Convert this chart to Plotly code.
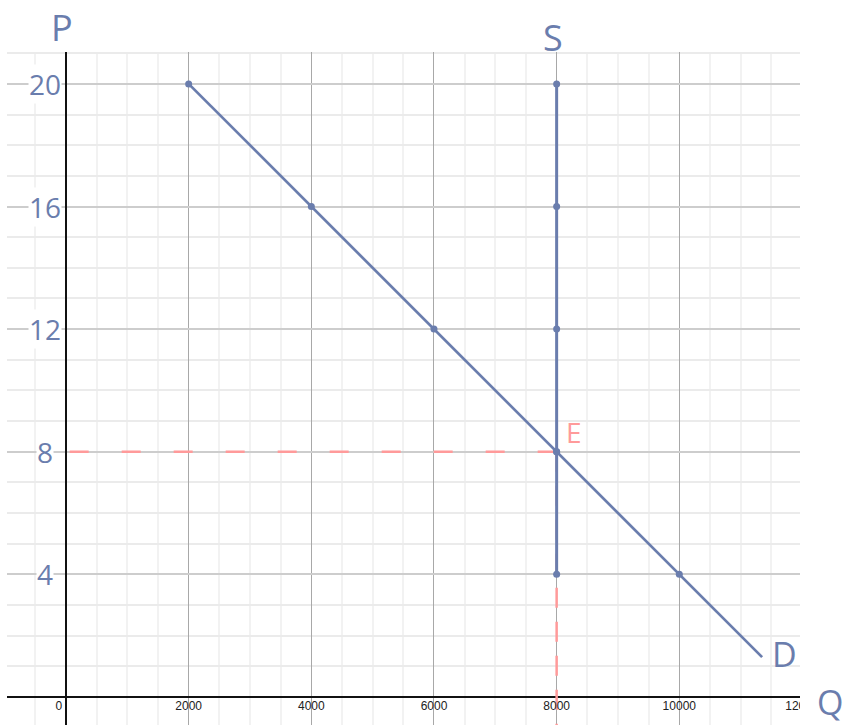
import plotly.graph_objects as go

# ---- data ----
demand_q = [2000, 4000, 6000, 8000, 10000, 11350]
demand_p = [20, 16, 12, 8, 4, 1.3]
demand_pts_q = [2000, 4000, 6000, 8000, 10000]
demand_pts_p = [20, 16, 12, 8, 4]

supply_q = [8000, 8000, 8000, 8000, 8000]
supply_p = [20, 16, 12, 8, 4]

eq_q = 8000
eq_p = 8

x_ticks = [0, 2000, 4000, 6000, 8000, 10000, 12000]
x_tick_labels = ["0", "2000", "4000", "6000", "8000", "10000", "12000"]
y_ticks = [20, 16, 12, 8, 4]
y_tick_labels = ["20", "16", "12", "8", "4"]

BLUE = "#6a7dad"
RED = "#ff9a9a"
HAND = "Open Sans"

X0, X1 = -962, 11968
Y0, Y1 = -0.914, 21.04

fig = go.Figure()

# dashed equilibrium guides
fig.add_trace(go.Scatter(x=[60, eq_q], y=[eq_p, eq_p], mode="lines",
                         line=dict(color=RED, width=2.5, dash="19px,33px"),
                         hoverinfo="skip", showlegend=False))
fig.add_trace(go.Scatter(x=[eq_q, eq_q], y=[eq_p, Y0], mode="lines",
                         line=dict(color=RED, width=2.5, dash="20px,14px"),
                         hoverinfo="skip", showlegend=False))

# demand
fig.add_trace(go.Scatter(x=demand_q, y=demand_p, mode="lines",
                         line=dict(color=BLUE, width=2.7),
                         hoverinfo="skip", showlegend=False))
fig.add_trace(go.Scatter(x=demand_pts_q, y=demand_pts_p, mode="markers",
                         marker=dict(color=BLUE, size=7),
                         hoverinfo="skip", showlegend=False))
# supply
fig.add_trace(go.Scatter(x=supply_q, y=supply_p, mode="lines+markers",
                         line=dict(color=BLUE, width=3),
                         marker=dict(color=BLUE, size=7),
                         hoverinfo="skip", showlegend=False))

# x tick labels drawn inside plot (clipped at plot edge)
x_label_pos = [x if x != 0 else -115 for x in x_ticks]
fig.add_trace(go.Scatter(x=x_label_pos, y=[-0.33] * len(x_ticks), mode="text",
                         text=x_tick_labels,
                         textfont=dict(family="Arial", size=12, color="#222"),
                         hoverinfo="skip", showlegend=False, cliponaxis=True))

fig.update_xaxes(range=[X0, X1], dtick=2000, tick0=0, showticklabels=False,
                 ticks="", showgrid=True, gridcolor="#a8a8a8", gridwidth=1,
                 minor=dict(dtick=500, tick0=0, showgrid=True,
                            gridcolor="#f2f2f2", gridwidth=2),
                 zeroline=True, zerolinecolor="#111", zerolinewidth=1.5,
                 showline=False, fixedrange=True)
fig.update_yaxes(range=[Y0, Y1], dtick=4, tick0=0, showticklabels=False,
                 ticks="", showgrid=True, gridcolor="#cdcdcd", gridwidth=2,
                 minor=dict(dtick=1, tick0=0, showgrid=True,
                            gridcolor="#ebebeb", gridwidth=1.5),
                 zeroline=True, zerolinecolor="#111", zerolinewidth=1.5,
                 showline=False, fixedrange=True)

ann = []
for yv, lab in zip(y_ticks, y_tick_labels):
    ann.append(dict(x=-340, y=yv, xref="x", yref="y", text=lab,
                    showarrow=False, font=dict(family=HAND, size=28, color=BLUE),
                    bgcolor="white", borderpad=0, xanchor="center", yanchor="middle"))


def pl(text, px, py, size, color=BLUE):
    return dict(x=(px - 7) / 793, y=(725 - py) / 673, xref="paper", yref="paper",
                text=text, showarrow=False, xanchor="center", yanchor="middle",
                font=dict(family=HAND, size=size, color=color))


ann += [
    pl("P", 62, 28, 36),
    pl("S", 553, 37, 36),
    pl("Q", 830, 702, 34),
    dict(x=eq_q + 280, y=eq_p + 0.65, xref="x", yref="y", text="E",
         showarrow=False, xanchor="center", yanchor="middle",
         font=dict(family=HAND, size=28, color=RED)),
    dict(x=11720, y=1.4, xref="x", yref="y", text="D",
         showarrow=False, xanchor="center", yanchor="middle",
         font=dict(family=HAND, size=34, color=BLUE)),
]

fig.update_layout(width=843, height=725,
                  margin=dict(l=7, r=43, t=52, b=0, pad=0),
                  paper_bgcolor="white", plot_bgcolor="white",
                  annotations=ann, showlegend=False)

fig.write_html("out.html", config={"displayModeBar": False},
               post_script="document.body.style.margin='0px';document.body.style.overflow='hidden';")
